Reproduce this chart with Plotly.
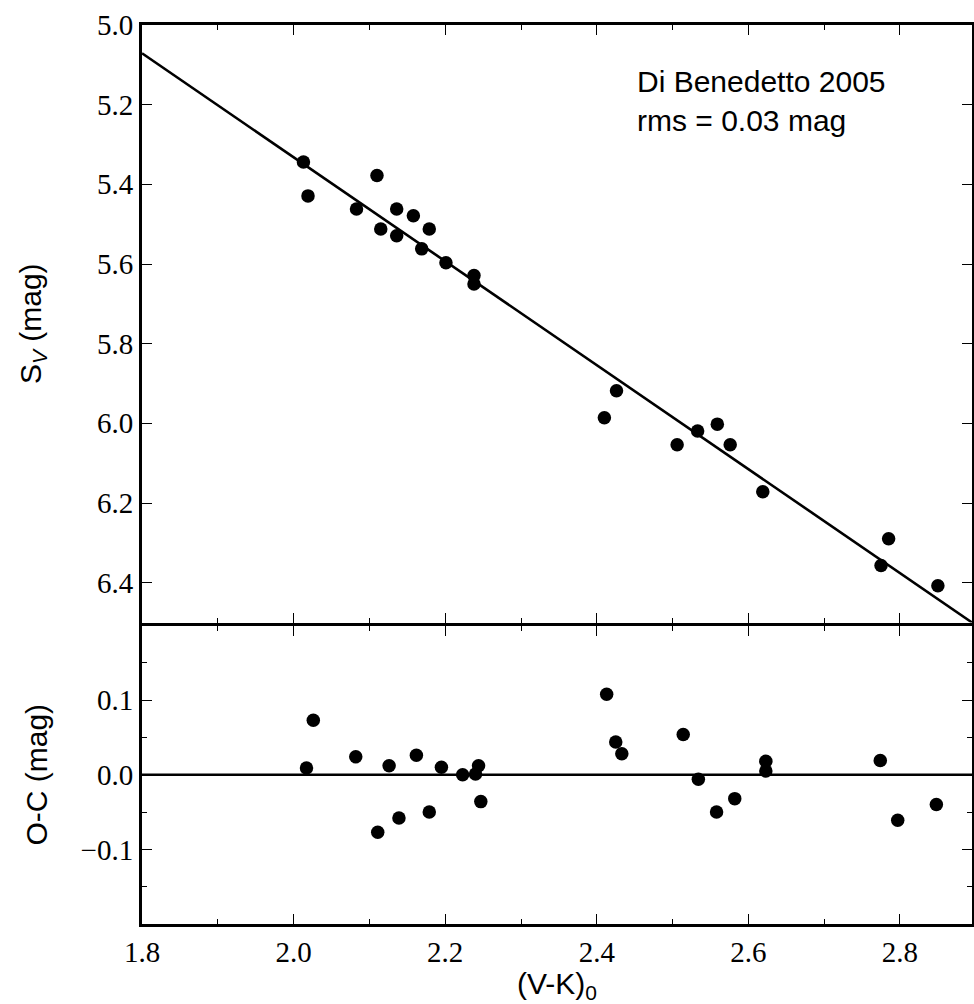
import plotly.graph_objects as go

# ---- data ----
vk_top = [2.013, 2.019, 2.110, 2.083, 2.136, 2.158, 2.115, 2.179, 2.136, 2.169,
          2.201, 2.238, 2.238, 2.426, 2.410, 2.533, 2.559, 2.506, 2.576, 2.619,
          2.785, 2.775, 2.850]
sv_top = [5.344, 5.429, 5.378, 5.462, 5.462, 5.479, 5.512, 5.512, 5.529, 5.562,
          5.597, 5.629, 5.650, 5.918, 5.986, 6.019, 6.002, 6.054, 6.054, 6.172,
          6.290, 6.357, 6.408]

vk_res = [2.026, 2.017, 2.082, 2.126, 2.162, 2.195, 2.223, 2.240, 2.244, 2.247,
          2.179, 2.139, 2.111, 2.413, 2.425, 2.433, 2.514, 2.534, 2.558, 2.582,
          2.623, 2.623, 2.774, 2.797, 2.848]
oc_res = [0.073, 0.009, 0.024, 0.012, 0.026, 0.010, 0.000, 0.001, 0.012, -0.036,
          -0.050, -0.058, -0.077, 0.108, 0.044, 0.028, 0.054, -0.006, -0.050, -0.032,
          0.018, 0.005, 0.019, -0.061, -0.040]

fit_intercept = 2.722
fit_slope = 1.305
fit_x = [1.8, 2.9]
fit_y = [fit_intercept + fit_slope * v for v in fit_x]

x_ticks = [1.8, 2.0, 2.2, 2.4, 2.6, 2.8]
x_minor = [1.9, 2.1, 2.3, 2.5, 2.7, 2.9]
sv_ticks = [5.0, 5.2, 5.4, 5.6, 5.8, 6.0, 6.2, 6.4]
oc_ticks = [-0.1, 0.0, 0.1]
oc_minor = [-0.15, -0.05, 0.05, 0.15]

# ---- figure ----
W, H = 974, 1004
mt, mb, ml, mr = 25, 80, 142, 2
plot_h = H - mt - mb
gap = 3.0
bottom_h = 300.0

fig = go.Figure()

fig.add_trace(go.Scatter(x=fit_x, y=fit_y, mode="lines", xaxis="x", yaxis="y",
                         line=dict(color="black", width=2.6),
                         showlegend=False, hoverinfo="skip"))
fig.add_trace(go.Scatter(x=vk_top, y=sv_top, mode="markers", xaxis="x", yaxis="y",
                         marker=dict(color="black", size=13.5),
                         showlegend=False))
fig.add_trace(go.Scatter(x=fit_x, y=[0, 0], mode="lines", xaxis="x2", yaxis="y2",
                         line=dict(color="black", width=2.6),
                         showlegend=False, hoverinfo="skip"))
fig.add_trace(go.Scatter(x=vk_res, y=oc_res, mode="markers", xaxis="x2", yaxis="y2",
                         marker=dict(color="black", size=13.5),
                         showlegend=False))

serif = "Liberation Serif, Times New Roman, DejaVu Serif, serif"
sans = "Liberation Sans, Arial, DejaVu Sans, sans-serif"
tickfont = dict(family=serif, size=29, color="black")
titlefont = dict(family=sans, size=30, color="black")

common = dict(showline=True, linecolor="black", linewidth=3, mirror="ticks",
              ticks="inside", ticklen=10, tickwidth=1, tickcolor="black",
              showgrid=False, zeroline=False, tickfont=tickfont, ticklabelstandoff=0)
xminor = dict(tickvals=x_minor, ticks="inside", ticklen=5, tickwidth=1,
              tickcolor="black", showgrid=False)

top_dom = [(bottom_h + gap / 2) / plot_h, 1]
bot_dom = [0, (bottom_h - gap / 2) / plot_h]

fig.update_layout(
    xaxis=dict(**common, range=[1.8, 2.895], tickvals=x_ticks, showticklabels=False,
               minor=xminor, anchor="y", matches="x2"),
    yaxis=dict(**common, domain=top_dom, anchor="x", range=[6.5, 5.0],
               tickvals=sv_ticks, ticktext=[f"{v:.1f}" for v in sv_ticks],
               title=dict(text="S<sub><i>V</i></sub> (mag)", font=titlefont, standoff=47)),
    xaxis2=dict(**common, range=[1.8, 2.895], tickvals=x_ticks,
                ticktext=[f"{v:.1f}" for v in x_ticks], minor=xminor, anchor="y2",
                title=dict(text="(V-K)<sub>0</sub>", font=titlefont, standoff=22)),
    yaxis2=dict(**common, domain=bot_dom, anchor="x2", range=[-0.2, 0.2],
                tickvals=oc_ticks, ticktext=["\u22120.1", "0.0", "0.1"],
                minor=dict(tickvals=oc_minor, ticks="inside", ticklen=5, tickwidth=1,
                           tickcolor="black", showgrid=False),
                title=dict(text="O-C (mag)", font=titlefont, standoff=25)),
)

fig.add_annotation(x=2.451, y=5.095, xref="x", yref="y", xanchor="left", yanchor="top",
                   text="Di Benedetto 2005<br>rms = 0.03 mag", showarrow=False, align="left",
                   font=dict(family=sans, size=30, color="black"))

fig.update_layout(width=W, height=H,
                  margin=dict(l=ml, r=mr, t=mt, b=mb, autoexpand=False),
                  plot_bgcolor="white", paper_bgcolor="white")

fig.write_html("out.html")
